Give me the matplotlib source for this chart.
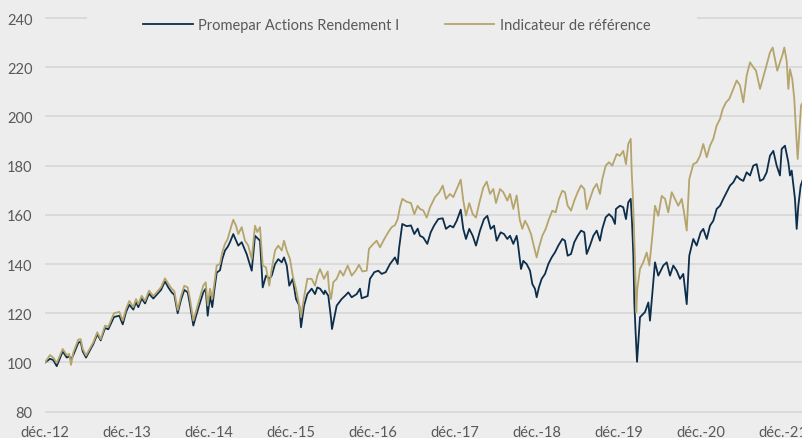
import matplotlib
matplotlib.use("Agg")
import matplotlib.pyplot as plt
from matplotlib.patches import Rectangle

# Years since déc.-12
fund_t = [0.000,0.061,0.101,0.143,0.216,0.265,0.296,0.317,0.345,0.406,0.435,0.460,0.500,0.589,0.638,0.679,0.732,0.772,0.813,0.841,0.906,0.948,0.988,1.028,1.077,1.110,
          1.138,1.179,1.220,1.268,1.321,1.362,1.415,1.463,1.504,1.545,1.577,1.618,1.659,1.699,1.740,1.768,1.809,1.838,1.878,1.930,1.960,1.984,2.012,2.040,2.065,2.094,2.134,2.162,2.195,2.228,
          2.256,2.296,2.357,2.399,2.460,2.521,2.561,2.622,2.655,2.695,2.735,2.765,2.805,2.845,2.887,2.915,2.948,2.979,3.021,3.061,3.101,3.122,3.159,3.199,3.252,3.293,3.321,3.354,3.402,
          3.415,3.455,3.488,3.500,3.557,3.618,3.659,3.699,3.740,3.801,3.841,3.862,3.935,3.963,4.016,4.065,4.106,4.155,4.207,4.268,4.301,4.317,4.357,4.411,4.463,4.504,4.545,
          4.573,4.613,4.662,4.704,4.744,4.796,4.850,4.890,4.939,4.979,5.021,5.070,5.101,5.134,5.174,5.216,5.256,5.305,5.354,5.394,5.435,5.476,5.508,5.557,5.598,5.638,5.671,5.711,5.752,
          5.765,5.805,5.833,5.874,5.915,5.943,5.976,5.996,6.024,6.057,6.098,6.138,6.179,6.220,6.260,6.309,6.341,6.374,6.415,6.455,6.496,6.537,6.577,6.606,6.646,6.687,6.728,6.768,6.796,6.838,6.878,6.918,
          6.951,6.963,7.012,7.052,7.085,7.113,7.143,7.159,7.175,7.187,7.203,7.220,7.256,7.317,7.358,7.378,7.418,7.439,7.479,7.540,7.582,7.622,7.662,7.704,7.744,7.784,7.826,7.857,7.906,7.947,7.996,
          8.028,8.070,8.110,8.150,8.191,8.232,8.272,8.313,8.354,8.394,8.435,8.476,8.516,8.557,8.598,8.638,8.679,8.720,8.760,8.801,8.841,8.882,8.923,8.963,8.984,9.024,9.065,9.085,9.106,9.146,9.167,9.187,9.216,9.244]
fund_v = [100.0,101.5,101.0,98.5,104.5,102.0,102.5,101.0,103.0,108.0,108.5,104.5,102.0,107.5,111.5,109.0,114.0,113.5,116.5,118.5,119.0,115.5,120.5,123.5,121.5,124.5,
          122.5,126.0,124.0,128.0,126.0,127.5,129.5,133.0,130.5,128.5,127.5,120.0,125.5,129.5,128.5,123.5,115.0,118.5,123.0,128.5,130.0,119.0,127.0,122.5,129.5,136.5,137.5,142.0,145.5,147.0,
          148.9,152.2,147.5,148.9,144.0,137.3,151.5,149.5,130.5,135.3,134.0,135.3,140.0,142.0,140.7,142.7,139.4,131.2,134.0,125.8,123.1,114.3,123.1,127.8,130.0,127.8,130.5,130.0,127.8,
          129.2,127.1,118.0,113.6,123.1,125.8,127.1,128.5,126.5,127.8,130.0,126.1,127.0,134.0,136.7,137.3,136.0,136.7,140.0,142.7,140.0,146.2,156.3,155.4,155.7,152.2,154.4,
          151.5,150.8,148.2,152.9,155.6,158.3,158.6,154.3,155.6,154.9,157.6,162.1,154.3,150.2,154.3,151.5,147.5,153.6,158.3,159.6,154.3,155.6,149.5,152.9,152.2,150.2,151.5,148.2,151.5,
          148.9,138.0,141.3,140.0,137.3,131.9,129.9,126.5,130.6,134.0,136.0,140.0,142.7,144.8,147.5,150.2,149.5,143.4,144.1,148.9,151.5,153.6,152.9,144.1,147.5,151.5,153.6,149.5,154.3,159.0,160.3,159.0,
          156.3,162.4,163.7,163.1,158.3,165.1,166.5,157.0,143.4,124.4,112.0,100.3,118.4,120.5,124.4,117.0,132.6,140.7,135.3,139.4,140.7,135.3,139.4,137.3,134.0,136.0,123.7,143.4,150.2,147.5,152.9,
          154.3,150.2,155.6,157.6,162.4,163.7,166.5,169.2,171.9,173.2,175.8,174.5,173.8,177.3,176.0,180.0,180.6,173.8,174.5,177.3,184.0,186.0,180.0,176.0,186.8,188.1,181.4,176.0,178.0,166.5,154.3,163.7,171.9,174.5]

ref_t = [0.000,0.061,0.101,0.143,0.216,0.265,0.296,0.317,0.345,0.406,0.435,0.460,0.500,0.589,0.638,0.679,0.732,0.772,0.813,0.841,0.906,0.948,0.988,1.028,1.077,1.110,
         1.138,1.179,1.220,1.268,1.321,1.362,1.415,1.463,1.504,1.545,1.577,1.618,1.659,1.699,1.740,1.768,1.809,1.838,1.878,1.930,1.960,1.984,2.012,2.040,2.065,2.094,2.134,2.162,2.195,2.228,
         2.256,2.296,2.329,2.357,2.399,2.439,2.479,2.521,2.561,2.589,2.622,2.655,2.695,2.735,2.765,2.805,2.845,2.887,2.915,2.948,2.988,3.021,3.061,3.101,3.122,3.159,3.199,3.252,3.293,3.321,3.354,3.402,
         3.448,3.463,3.488,3.516,3.557,3.598,3.638,3.691,3.740,3.789,3.829,3.870,3.923,3.951,4.004,4.045,4.085,4.138,4.187,4.228,4.268,4.301,4.329,4.357,4.411,4.463,4.504,4.545,
         4.573,4.613,4.655,4.695,4.756,4.809,4.850,4.890,4.939,4.979,5.021,5.070,5.101,5.134,5.174,5.216,5.256,5.296,5.345,5.387,5.427,5.467,5.500,5.549,5.589,5.638,5.671,5.711,5.752,
         5.790,5.821,5.854,5.887,5.927,5.955,5.996,6.024,6.065,6.106,6.146,6.187,6.228,6.268,6.309,6.341,6.374,6.415,6.455,6.496,6.537,6.577,6.606,6.646,6.687,6.728,6.768,6.796,6.838,6.878,6.918,
         6.972,7.012,7.052,7.085,7.113,7.143,7.155,7.167,7.183,7.195,7.211,7.223,7.256,7.296,7.338,7.370,7.411,7.439,7.479,7.521,7.561,7.601,7.643,7.683,7.723,7.765,7.793,7.826,7.857,7.906,7.947,7.988,
         8.028,8.070,8.110,8.150,8.191,8.232,8.265,8.305,8.345,8.394,8.435,8.476,8.516,8.557,8.598,8.638,8.671,8.720,8.760,8.809,8.841,8.874,8.902,8.930,8.963,8.996,9.016,9.045,9.065,9.085,9.113,9.138,9.155,9.179,9.199,9.220,9.244]
ref_v = [100.0,103.0,102.0,99.8,105.5,103.0,103.5,99.0,104.0,109.3,109.5,105.5,102.8,108.2,112.3,109.5,115.0,114.5,117.7,120.0,120.6,117.0,121.7,125.0,122.5,125.8,
         123.7,127.1,125.0,129.2,127.0,128.5,130.6,134.2,132.0,130.0,129.0,121.3,127.0,131.2,130.5,125.8,117.0,120.4,125.0,131.2,132.6,123.1,130.0,125.8,132.0,139.4,140.0,144.8,148.2,150.2,
         153.6,158.0,155.6,152.2,155.0,149.5,147.5,142.0,155.6,153.0,155.0,139.4,138.7,131.2,138.0,145.5,147.5,145.5,149.5,145.5,142.0,135.3,130.0,123.1,118.5,126.5,134.0,134.0,131.2,135.3,138.0,134.0,
         137.0,130.0,125.8,132.6,134.0,137.3,135.3,139.4,135.3,137.3,139.7,137.0,137.3,146.2,148.2,149.5,146.8,150.2,153.0,155.0,155.8,158.3,163.1,166.5,165.3,164.8,160.3,163.7,
         162.4,161.8,158.9,163.0,167.2,169.2,171.9,166.5,168.5,167.2,170.5,174.3,165.8,159.7,164.8,160.3,158.9,164.8,171.1,173.5,168.5,170.5,164.8,170.5,169.2,165.8,168.5,162.4,167.9,
         158.0,154.3,157.6,155.6,152.2,148.2,142.7,146.8,151.5,154.3,158.3,161.7,161.0,166.5,169.8,169.2,163.7,161.7,165.8,169.2,172.0,170.5,162.3,166.5,170.5,172.6,168.5,174.5,180.0,181.4,180.0,
         184.7,184.0,186.0,180.6,188.8,190.9,177.3,169.2,154.3,140.7,120.4,129.9,138.0,140.7,144.7,139.4,152.9,163.7,159.6,167.7,166.5,161.0,169.2,166.5,163.7,166.5,161.0,153.6,174.5,180.6,181.3,184.0,
         188.8,183.4,188.1,190.9,196.3,199.0,203.0,205.7,207.1,211.2,214.6,212.6,205.7,216.6,222.0,220.0,218.6,211.2,216.0,222.0,226.0,228.0,223.3,218.6,222.0,225.3,228.0,222.6,211.2,219.2,215.2,207.1,196.3,182.7,193.6,204.4,205.8]

tick_pos = list(range(10))
tick_labels = ["déc.-12", "déc.-13", "déc.-14", "déc.-15", "déc.-16",
               "déc.-17", "déc.-18", "déc.-19", "déc.-20", "déc.-21"]
y_ticks = [80, 100, 120, 140, 160, 180, 200, 220, 240]
series_names = ["Promepar Actions Rendement I", "Indicateur de référence"]

BG = "#ededed"
NAVY = "#0c2e4b"
GOLD = "#b5a46c"
TXT = "#595959"

plt.rcParams['font.family'] = ['Lato', 'DejaVu Sans']

W, H = 803, 439
fig = plt.figure(figsize=(W / 100, H / 100), dpi=100, facecolor=BG)
ax = fig.add_axes([45 / W, 0.0487, 1 - 45 / W, 0.9192])
ax.set_facecolor(BG)

ax.plot(fund_t, fund_v, color=NAVY, lw=1.3, label=series_names[0], zorder=3)
ax.plot(ref_t, ref_v, color=GOLD, lw=1.3, label=series_names[1], zorder=4)

ax.set_xlim(0, 9.244)
ax.set_ylim(78, 242)
ax.set_yticks(y_ticks)
ax.set_xticks(tick_pos)
ax.set_xticklabels(tick_labels)
ax.tick_params(axis='both', length=0, labelcolor=TXT, labelsize=10.5)
ax.tick_params(axis='y', pad=9)
ax.tick_params(axis='x', pad=6)
ax.grid(axis='y', color='#d9d9d9', lw=1.3, zorder=1)
ax.grid(axis='x', visible=False)
for s in ax.spines.values():
    s.set_visible(False)

# legend area mask over top gridline
fig.patches.append(Rectangle((87 / W, (H - 27) / H), 610 / W, 16 / H,
                             transform=fig.transFigure, facecolor=BG,
                             edgecolor='none', zorder=5))
leg = fig.legend(loc='center', bbox_to_anchor=(397 / W, (H - 26) / H), ncol=2,
                 frameon=False, fontsize=10.5, handlelength=3.4,
                 columnspacing=3.1, handletextpad=0.4, labelcolor=TXT)
leg.set_zorder(6)

fig.savefig("out.png", dpi=100, facecolor=BG)
